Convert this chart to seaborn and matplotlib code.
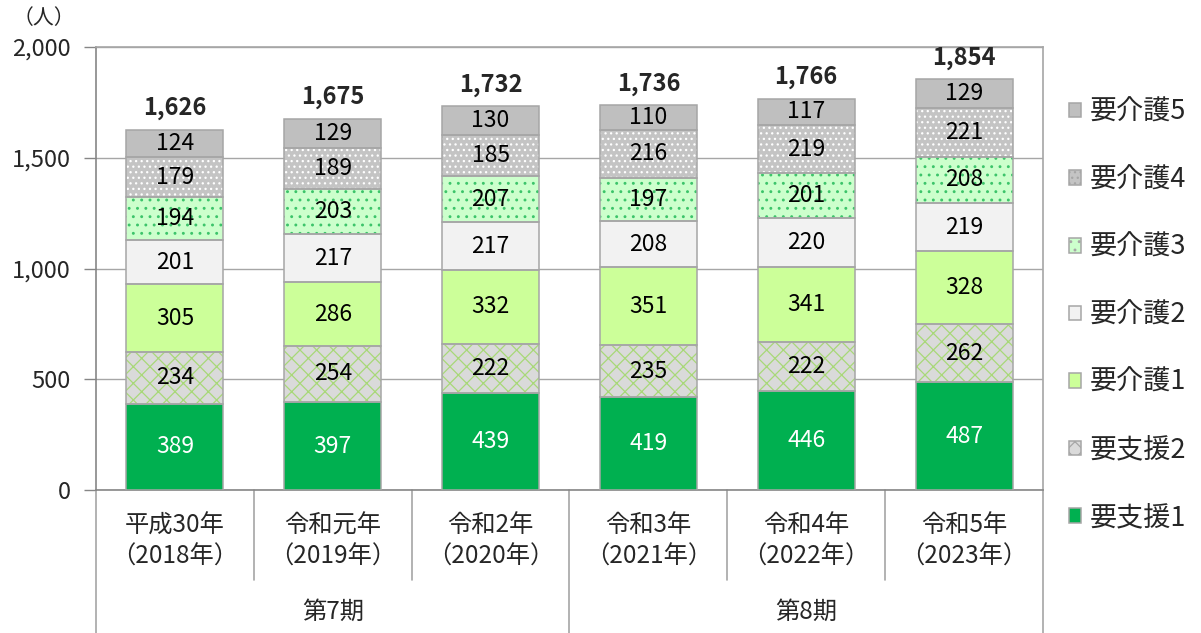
import numpy as np
import pandas as pd
import matplotlib
matplotlib.use('Agg')
import matplotlib.pyplot as plt
from matplotlib.patches import Patch
import seaborn as sns

sns.set_style('white')
plt.rcParams['font.family'] = ['Noto Sans CJK JP', 'DejaVu Sans']
plt.rcParams['hatch.linewidth'] = 0.9

years = ['平成30年\n（2018年）', '令和元年\n（2019年）', '令和2年\n（2020年）',
         '令和3年\n（2021年）', '令和4年\n（2022年）', '令和5年\n（2023年）']
periods = ['第7期', '第8期']
period_span = [(0, 3), (3, 6)]

levels = ['要支援1', '要支援2', '要介護1', '要介護2', '要介護3', '要介護4', '要介護5']
shien1 = [389, 397, 439, 419, 446, 487]
shien2 = [234, 254, 222, 235, 222, 262]
kaigo1 = [305, 286, 332, 351, 341, 328]
kaigo2 = [201, 217, 217, 208, 220, 219]
kaigo3 = [194, 203, 207, 197, 201, 208]
kaigo4 = [179, 189, 185, 216, 219, 221]
kaigo5 = [124, 129, 130, 110, 117, 129]
series = [shien1, shien2, kaigo1, kaigo2, kaigo3, kaigo4, kaigo5]

# face colour, hatch, hatch colour, text colour
styles = {
    '要支援1': ('#00B050', '', '#00B050', 'white'),
    '要支援2': ('#DADADA', 'xx', '#A8D878', 'black'),
    '要介護1': ('#CCFF99', '', '#CCFF99', 'black'),
    '要介護2': ('#F2F2F2', '', '#F2F2F2', 'black'),
    '要介護3': ('#CCFFCC', '..', '#3CC46A', 'black'),
    '要介護4': ('#C4C4C4', '...', '#FFFFFF', 'black'),
    '要介護5': ('#BFBFBF', '', '#BFBFBF', 'black'),
}
edge = '#A6A6A6'

df = pd.DataFrame({'year': np.repeat(years, len(levels)),
                   'level': levels * len(years),
                   'value': np.array(series).T.ravel()})

fig = plt.figure(figsize=(12.01, 6.33), dpi=100)
ax = fig.add_axes([96 / 1201, 1 - 490 / 633, (1043 - 96) / 1201, (490 - 47) / 633])

bottom = np.zeros(len(years))
for lvl in levels:
    fc, hatch, hc, tc = styles[lvl]
    sub = df[df['level'] == lvl]
    vals = sub['value'].to_numpy()
    sns.barplot(data=sub, x='year', y='value', order=years, ax=ax, width=0.615,
                color=fc, saturation=1, errorbar=None, bottom=bottom,
                facecolor=fc, edgecolor=hc, hatch=hatch, linewidth=0, zorder=3)
    sns.barplot(data=sub, x='year', y='value', order=years, ax=ax, width=0.615,
                color=edge, saturation=1, errorbar=None, bottom=bottom,
                facecolor='none', edgecolor=edge, linewidth=1.1, zorder=4)
    for i, v in enumerate(vals):
        ax.text(i, bottom[i] + v / 2, f'{v:,}', ha='center', va='center',
                fontsize=16.5, color=tc, zorder=5)
    bottom = bottom + vals

for i, t in enumerate(bottom):
    ax.annotate(f'{int(t):,}', (i, t), xytext=(0, 15.5), textcoords='offset points',
                ha='center', va='center', fontsize=17, fontweight='bold')

ax.set_xlim(-0.5, len(years) - 0.5)
ax.set_ylim(0, 2000)
ax.set_yticks(range(0, 2001, 500))
ax.set_yticklabels([f'{v:,}' for v in range(0, 2001, 500)], fontsize=17)
ax.yaxis.grid(True, color='#A6A6A6', linewidth=1.0, zorder=0)
ax.set_axisbelow(True)
ax.tick_params(axis='y', length=9, width=1, color='#868686', pad=9, left=True)
ax.set_xticks([])
ax.set_xlabel('')
ax.set_ylabel('')
for s in ['left', 'bottom', 'right', 'top']:
    ax.spines[s].set_color('#868686' if s in ('left', 'bottom') else '#A6A6A6')
    ax.spines[s].set_linewidth(1.2)
fig.text(44 / 1201, 1 - 18 / 633, '（人）', ha='center', va='center', fontsize=15)

# multi-level category axis
trans = ax.get_xaxis_transform()
h = ax.get_position().height * 633
for i, y in enumerate(years):
    ax.text(i, -(541 - 490) / h, y, transform=trans, ha='center', va='center',
            fontsize=17.5, linespacing=1.25)
for i in range(1, len(years)):
    if i in (3,):
        continue
    ax.plot([i - 0.5, i - 0.5], [0, -(580 - 490) / h], transform=trans,
            color='#A6A6A6', linewidth=1.2, clip_on=False)
for (a, b), p in zip(period_span, periods):
    ax.text((a + b - 1) / 2, -(612 - 490) / h, p, transform=trans,
            ha='center', va='center', fontsize=17.5)
for x in (-0.5, 2.5, 5.5):
    ax.plot([x, x], [0, -(633 - 490) / h], transform=trans,
            color='#A6A6A6', linewidth=1.2, clip_on=False)

handles = []
for lvl in levels[::-1]:
    fc, hatch, hc, tc = styles[lvl]
    handles.append(Patch(facecolor=fc, edgecolor=edge, hatch=hatch, linewidth=1.1))
leg = ax.legend(handles, levels[::-1], loc='center left', bbox_to_anchor=(1.002, 0.395),
                frameon=False, fontsize=19.5, handlelength=0.45, handleheight=0.45,
                handletextpad=0.3, labelspacing=1.5)

fig.savefig('out.png', dpi=100)
